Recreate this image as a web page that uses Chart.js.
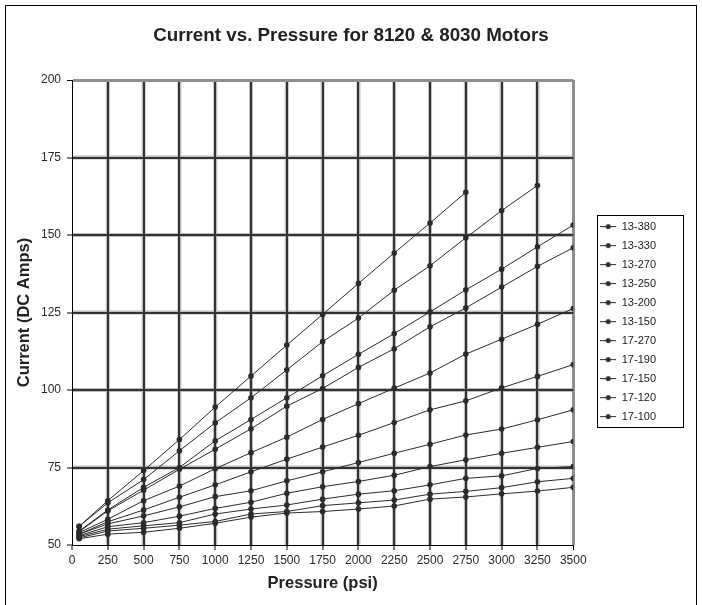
<!DOCTYPE html>
<html>
<head>
<meta charset="utf-8">
<script src="https://cdn.jsdelivr.net/npm/chart.js@4/dist/chart.umd.min.js"></script>
<style>
html,body{margin:0;padding:0;background:#fff}
#wrap{width:702px;height:605px}
</style>
</head>
<body>
<div id="wrap"><canvas id="c" width="702" height="605"></canvas></div>
<script>
// pressure points (psi) shared by every motor
const pressures=[50,250,500,750,1000,1250,1500,1750,2000,2250,2500,2750,3000,3250,3500];
const xTicks=[0,250,500,750,1000,1250,1500,1750,2000,2250,2500,2750,3000,3250,3500];
const yTicks=[50,75,100,125,150,175,200];

// current (DC amps); 13-380 stops at 2750, 13-330 at 3250
const m13_380=[56,64.3,74,84,94.5,104.5,114.5,124.4,134.4,144.2,153.9,163.8];
const m13_330=[56,63.6,71.1,80.4,89.4,97.5,106.5,115.6,123.2,132.2,140.1,149.1,157.9,166];
const m13_270=[54.5,61.3,68.6,75,83.6,90.5,97.5,104.6,111.5,118.2,125.2,132.3,139,146.2,153.2];
const m13_250=[54.3,61,67.7,74.4,80.9,87.5,94.8,100.5,107.3,113.3,120.4,126.5,133.2,139.9,145.9];
const m13_200=[54,58.3,64.3,69,74.6,79.8,84.8,90.5,95.6,100.6,105.5,111.6,116.4,121.2,126.3];
const m13_150=[53.5,57.5,61.3,65.4,69.4,73.6,77.7,81.6,85.4,89.5,93.6,96.5,100.7,104.4,108.2];
const m17_270=[53.5,56.8,59.4,62.3,65.6,67.5,70.7,73.6,76.6,79.6,82.5,85.5,87.4,90.4,93.6];
const m17_190=[53,55.9,57.2,59.3,61.8,63.8,66.7,68.8,70.5,72.5,75.3,77.5,79.6,81.5,83.4];
const m17_150=[52.7,55.1,56.2,57.2,60,61.6,62.9,64.8,66.4,67.5,69.4,71.5,72.3,74.7,75.3];
const m17_120=[52.3,54.5,55.4,56.4,57.6,60,60.8,62.7,63.6,64.5,66.4,67.3,68.5,70.4,71.5];
const m17_100=[52,53.5,54.1,55.4,57,59,60.3,60.8,61.6,62.6,64.8,65.5,66.5,67.4,68.6];

const seriesNames=['13-380','13-330','13-270','13-250','13-200','13-150','17-270','17-190','17-150','17-120','17-100'];
const seriesVals=[m13_380,m13_330,m13_270,m13_250,m13_200,m13_150,m17_270,m17_190,m17_150,m17_120,m17_100];

const INK='#2b2b2b';
const FONT='"Liberation Sans", Arial, sans-serif';

// little line-with-dot marker for the legend
function legendMarker(){
  const c=document.createElement('canvas');c.width=16;c.height=7;
  const g=c.getContext('2d');
  g.strokeStyle=INK;g.lineWidth=1;
  g.beginPath();g.moveTo(0,3.5);g.lineTo(16,3.5);g.stroke();
  g.fillStyle=INK;g.beginPath();g.arc(8,3.5,2.5,0,Math.PI*2);g.fill();
  return c;
}

const datasets=seriesNames.map((name,i)=>({
  label:name,
  data:seriesVals[i].map((v,j)=>({x:pressures[j],y:v})),
  borderColor:INK,
  backgroundColor:INK,
  borderWidth:1,
  pointRadius:2.8,
  pointBorderWidth:0,
  pointBackgroundColor:INK,
  tension:0
}));

// light halo under each grid line, like the scanned original
const gridHalo={id:'gridHalo',beforeDraw(chart){
  const {ctx,chartArea:a,scales:{x,y}}=chart;
  ctx.save();
  ctx.strokeStyle='#bcbcbc';ctx.lineWidth=4;
  xTicks.slice(1,-1).forEach(v=>{const p=x.getPixelForValue(v);ctx.beginPath();ctx.moveTo(p,a.top);ctx.lineTo(p,a.bottom);ctx.stroke();});
  yTicks.slice(1,-1).forEach(v=>{const p=y.getPixelForValue(v);ctx.beginPath();ctx.moveTo(a.left,p);ctx.lineTo(a.right,p);ctx.stroke();});
  ctx.restore();
}};

// title centred on the whole frame, not just left of the legend
const titleSpan={id:'titleSpan',afterLayout(chart){
  const t=chart.titleBlock;
  if(t){t.left=6;t.right=chart.width-6;t.width=t.right-t.left;}
}};

// outer frame + box round the legend
const frames={id:'frames',afterDraw(chart){
  const ctx=chart.ctx;
  ctx.save();
  ctx.strokeStyle='#000';ctx.lineWidth=1;
  ctx.strokeRect(5.5,5.5,691,700);
  const hb=chart.legend.legendHitBoxes;
  if(hb&&hb.length){
    const l=hb[0].left-3, t=hb[0].top-6;
    const b=hb[hb.length-1].top+hb[hb.length-1].height+5;
    ctx.strokeRect(Math.round(l)+0.5,Math.round(t)+0.5,86,Math.round(b-t));
  }
  ctx.restore();
}};

const gridColor=(edge,last)=>c=>c.tick.value===edge?'rgba(0,0,0,0)':(c.tick.value===last?'#8e8e8e':'#333');
const gridWidth=last=>c=>c.tick.value===last?3:2;

new Chart(document.getElementById('c'),{
  type:'line',
  data:{datasets},
  plugins:[gridHalo,titleSpan,frames],
  options:{
    responsive:false,
    animation:false,
    events:[],
    layout:{padding:{left:6,right:36,top:5,bottom:0}},
    plugins:{
      title:{display:true,text:'Current vs. Pressure for 8120 & 8030 Motors',color:'#222',
        font:{family:FONT,size:18.8,weight:'bold'},padding:{top:19.5,bottom:33}},
      legend:{position:'right',
        title:{display:true,text:'',font:{size:1},padding:{top:24,bottom:8}},
        labels:{usePointStyle:true,pointStyle:legendMarker(),pointStyleWidth:16,boxHeight:7,
          color:'#222',font:{family:FONT,size:11},padding:8}},
      tooltip:{enabled:false}
    },
    scales:{
      x:{type:'linear',min:0,max:3500,
        afterBuildTicks(s){s.ticks=xTicks.map(v=>({value:v}));},
        afterFit(s){s.height=60;},
        grid:{color:gridColor(0,3500),lineWidth:gridWidth(3500),tickColor:'#000',tickWidth:1,tickLength:5},
        border:{display:true,color:'#000',width:1},
        ticks:{color:'#2a2a2a',font:{family:FONT,size:12},padding:3,maxRotation:0,autoSkip:false,
          callback:v=>String(v)},
        title:{display:true,text:'Pressure (psi)',color:'#222',font:{family:FONT,size:16.5,weight:'bold'},padding:{top:4,bottom:12}}
      },
      y:{min:50,max:200,
        afterBuildTicks(s){s.ticks=yTicks.map(v=>({value:v}));},
        afterFit(s){s.width=66;},
        grid:{color:gridColor(50,200),lineWidth:gridWidth(200),tickColor:'#000',tickWidth:1,tickLength:5},
        border:{display:true,color:'#000',width:1},
        ticks:{color:'#2a2a2a',font:{family:FONT,size:12},padding:6,callback:v=>String(v)},
        title:{display:true,text:'Current (DC Amps)',color:'#222',font:{family:FONT,size:16.5,weight:'bold'},padding:{top:9,bottom:0}}
      },
      spacer:{position:'right',display:true,
        grid:{display:false},border:{display:false},ticks:{display:false},
        afterFit(s){s.width=19;}}
    }
  }
});
</script>
</body>
</html>
